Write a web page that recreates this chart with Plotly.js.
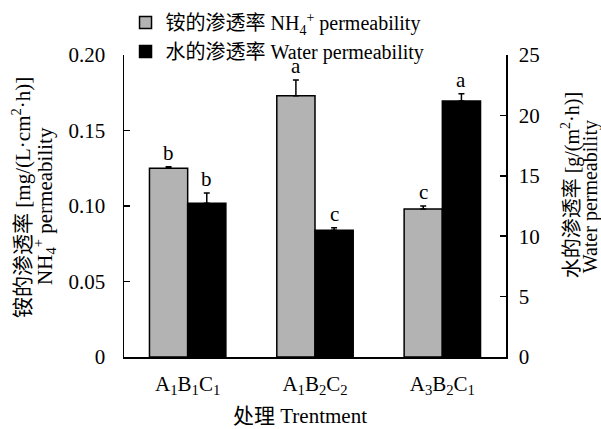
<!DOCTYPE html>
<html>
<head>
<meta charset="utf-8">
<script src="https://cdn.plot.ly/plotly-3.0.1.min.js"></script>
<style>html,body{margin:0;padding:0;background:#fff}#chart{width:601px;height:429px}</style>
</head>
<body>
<div id="chart"></div>
<script>
var categories = ['A<sub>1</sub>B<sub>1</sub>C<sub>1</sub>', 'A<sub>1</sub>B<sub>2</sub>C<sub>2</sub>', 'A<sub>3</sub>B<sub>2</sub>C<sub>1</sub>'];
var nh4Values = [0.125, 0.173, 0.098];
var nh4Errors = [0.001, 0.0105, 0.002];
var nh4Letters = ['b', 'a', 'c'];
var waterValues = [12.72, 10.5, 21.2];
var waterErrors = [0.86, 0.2, 0.6];
var waterLetters = ['b', 'c', 'a'];
var leftTicks = [0, 0.05, 0.10, 0.15, 0.20];
var leftTickText = ['0', '0.05', '0.10', '0.15', '0.20'];
var rightTicks = [0, 5, 10, 15, 20, 25];
var xTitle = '处理 Trentment';
var leftTitle = ['铵的渗透率 [mg/(L·cm<sup>2</sup>·h)]', 'NH<sub>4</sub><sup>+</sup> permeability'];
var rightTitle = ['水的渗透率 [g/(m<sup>2</sup>·h)]', 'Water permeability'];

var FONT = '"Liberation Serif", "Times New Roman", "Noto Sans CJK SC", serif';

var traces = [
  {
    type: 'bar', name: '铵的渗透率 NH<sub>4</sub><sup>+</sup> permeability',
    x: categories, y: nh4Values, yaxis: 'y', offsetgroup: '1',
    marker: {color: '#b3b3b3', line: {color: '#000', width: 1.5}},
    error_y: {type: 'data', symmetric: false, array: nh4Errors, arrayminus: nh4Errors.map(function(){return 0;}), color: '#000', thickness: 1.5, width: 3}
  },
  {
    type: 'bar', name: '水的渗透率 Water permeability',
    x: categories, y: waterValues, yaxis: 'y2', offsetgroup: '2',
    marker: {color: '#000000', line: {color: '#000', width: 1.5}},
    error_y: {type: 'data', symmetric: false, array: waterErrors, arrayminus: waterErrors.map(function(){return 0;}), color: '#000', thickness: 1.5, width: 3}
  }
];

var annotations = [];
categories.forEach(function(c, i) {
  annotations.push({x: c, xref: 'x', y: nh4Values[i] + nh4Errors[i], yref: 'y', text: nh4Letters[i], showarrow: false, xshift: -19, yanchor: 'bottom', yshift: 0, font: {size: 21, color: '#000', family: FONT}});
  annotations.push({x: c, xref: 'x', y: waterValues[i] + waterErrors[i], yref: 'y2', text: waterLetters[i], showarrow: false, xshift: 19, yanchor: 'bottom', yshift: 0, font: {size: 21, color: '#000', family: FONT}});
});

// axis titles placed as annotations (paper coords relative to the plot area)
var L = 124, R = 505.7, T = 55, B = 357;
function px(x) { return (x - L) / (R - L); }
function py(y) { return (B - y) / (B - T); }
var titleFont = {size: 21, color: '#000', family: FONT};
var titleFontR = {size: 20, color: '#000', family: FONT};
annotations.push({xref: 'paper', yref: 'paper', x: px(21), y: py(197), text: leftTitle[0], textangle: -90, showarrow: false, xanchor: 'center', yanchor: 'middle', font: titleFont});
annotations.push({xref: 'paper', yref: 'paper', x: px(44), y: py(206), text: leftTitle[1], textangle: -90, showarrow: false, xanchor: 'center', yanchor: 'middle', font: titleFont});
annotations.push({xref: 'paper', yref: 'paper', x: px(570), y: py(185), text: rightTitle[0], textangle: -90, showarrow: false, xanchor: 'center', yanchor: 'middle', font: titleFontR});
annotations.push({xref: 'paper', yref: 'paper', x: px(590), y: py(197), text: rightTitle[1], textangle: -90, showarrow: false, xanchor: 'center', yanchor: 'middle', font: titleFontR});
annotations.push({xref: 'paper', yref: 'paper', x: px(300), y: py(416), text: xTitle, showarrow: false, xanchor: 'center', yanchor: 'middle', font: titleFont});

var layout = {
  width: 601, height: 429,
  margin: {l: 124, r: 95, t: 55, b: 72, pad: 0, autoexpand: false},
  paper_bgcolor: '#fff', plot_bgcolor: '#fff',
  font: {family: FONT, size: 20, color: '#000'},
  barmode: 'group', bargap: 0.4, bargroupgap: 0,
  showlegend: true,
  legend: {xref: 'paper', yref: 'paper', x: 0.004, y: 1.172, xanchor: 'left', yanchor: 'top', bgcolor: 'rgba(0,0,0,0)', font: {size: 20, family: FONT}, tracegroupgap: 0, itemwidth: 30},
  xaxis: {
    showline: true, linecolor: '#000', linewidth: 1.5, ticks: '', showgrid: false, zeroline: false,
    tickfont: {size: 21, family: FONT}, ticklabelstandoff: 7
  },
  yaxis: {
    range: [0, 0.2], tickvals: leftTicks, ticktext: leftTickText,
    showline: true, linecolor: '#000', linewidth: 1.5, ticks: 'inside', ticklen: 6, tickwidth: 1.5, tickcolor: '#000',
    showgrid: false, zeroline: false, ticklabelstandoff: 13,
    tickfont: {size: 21, family: FONT}
  },
  yaxis2: {
    range: [0, 25], tickvals: rightTicks, overlaying: 'y', side: 'right',
    showline: true, linecolor: '#000', linewidth: 1.5, ticks: 'inside', ticklen: 6, tickwidth: 1.5, tickcolor: '#000',
    showgrid: false, zeroline: false, ticklabelstandoff: 7,
    tickfont: {size: 21, family: FONT}
  },
  annotations: annotations
};

Plotly.newPlot('chart', traces, layout, {displayModeBar: false, staticPlot: true});
</script>
</body>
</html>
